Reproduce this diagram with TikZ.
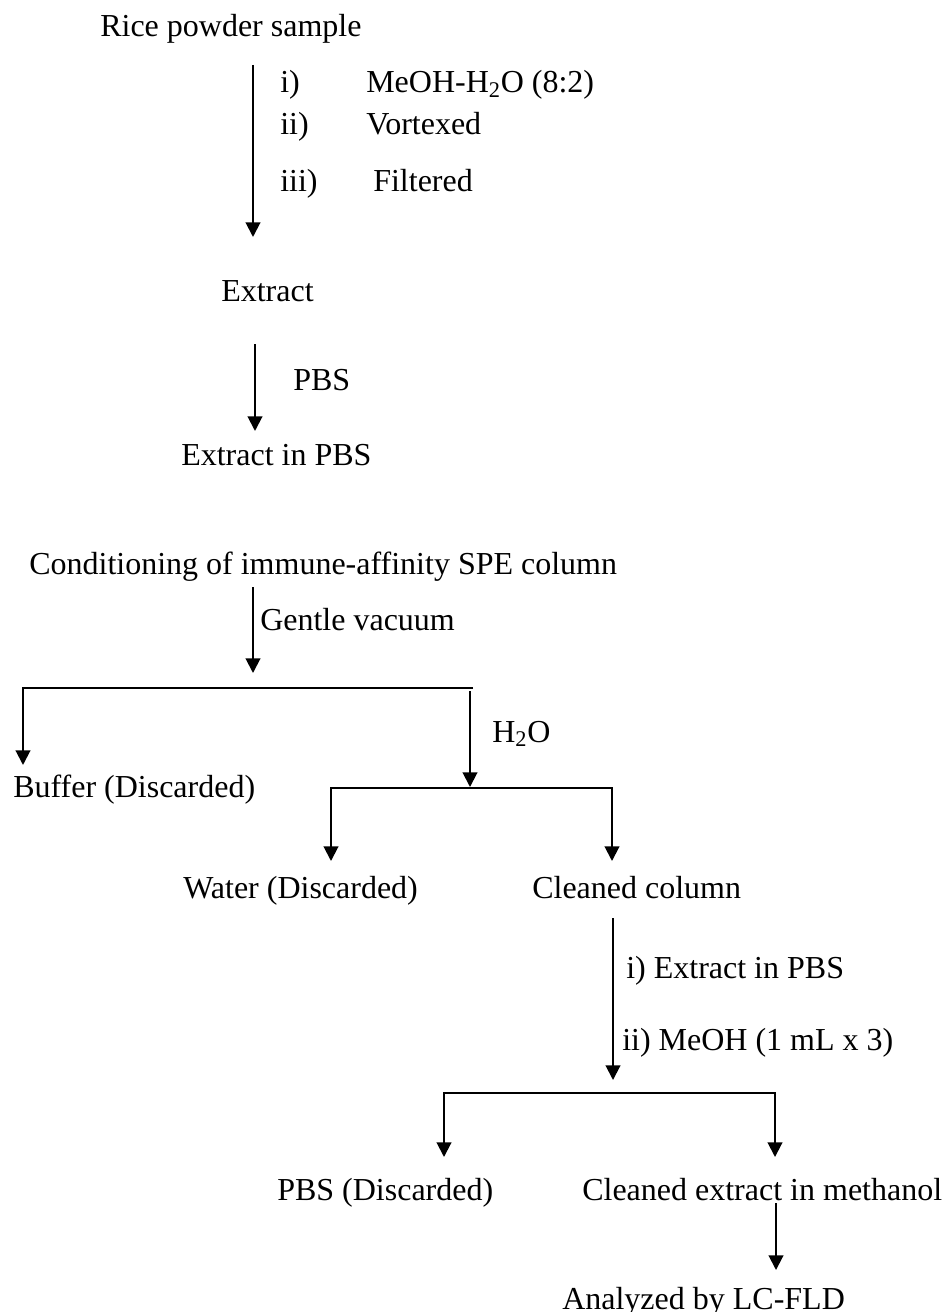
\documentclass[tikz,border=0pt]{standalone}
\usepackage{fontspec}
\setmainfont{Liberation Serif}
\usetikzlibrary{arrows.meta}

\begin{document}
\begin{tikzpicture}[x=0.75pt,y=-0.75pt,
  every node/.style={anchor=base west,inner sep=0pt,font=\fontsize{24}{28}\selectfont},
  arr/.style={line width=1.5pt,-{Triangle[length=11pt,width=11pt]}},
  twoarr/.style={line width=1.5pt,{Triangle[length=11pt,width=11pt]}-{Triangle[length=11pt,width=11pt]}}]
  \useasboundingbox (0,0) rectangle (944,1312);
  % extraction
  \node (S) at (100,37) {Rice powder sample};
  \coordinate (A1) at (253,65); \coordinate (A2) at (253,237);
  \draw[arr] (A1) -- (A2);
  \node (S1) at (280,93) {i)};   \node (T1) at (366,93) {MeOH-H\textsubscript{2}O (8:2)};
  \node (S2) at (280,135) {ii)}; \node (T2) at (366,135) {Vortexed};
  \node (S3) at (280,192) {iii)}; \node (T3) at (373,192) {Filtered};
  \node (E) at (221,301) {Extract};
  \coordinate (B1) at (255,344); \coordinate (B2) at (255,431);
  \draw[arr] (B1) -- (B2);
  \node (P) at (293,390) {PBS};
  \node (EP) at (181,465) {Extract in PBS};
  % SPE column
  \node (C) at (29,574) {Conditioning of immune-affinity SPE column};
  \coordinate (C1) at (253,587); \coordinate (C2) at (253,673);
  \draw[arr] (C1) -- (C2);
  \node (V) at (260,630) {Gentle vacuum};
  \coordinate (H1l) at (23,688); \coordinate (H1r) at (473,688);
  \coordinate (Bt) at (23,765);
  \draw[arr] (H1r) -- (H1l) -- (Bt);
  \node (BD) at (13,797) {Buffer (Discarded)};
  \coordinate (D1) at (470,691); \coordinate (D2) at (470,787);
  \draw[arr] (D1) -- (D2);
  \node (W) at (492,742) {H\textsubscript{2}O};
  \coordinate (H2l) at (331,788); \coordinate (H2r) at (612,788);
  \coordinate (Wt) at (331,861); \coordinate (CCt) at (612,861);
  \draw[twoarr] (Wt) -- (H2l) -- (H2r) -- (CCt);
  \node (WD) at (183,898) {Water (Discarded)};
  \node (CC) at (532,898) {Cleaned column};
  % elution
  \coordinate (F1) at (613,918); \coordinate (F2) at (613,1080);
  \draw[arr] (F1) -- (F2);
  \node (L1) at (626,978) {i) Extract in PBS};
  \node (L2) at (622,1050) {ii) MeOH (1 mL x 3)};
  \coordinate (H3l) at (444,1093); \coordinate (H3r) at (775,1093);
  \coordinate (Pt) at (444,1157); \coordinate (CEt) at (775,1157);
  \draw[twoarr] (Pt) -- (H3l) -- (H3r) -- (CEt);
  \node (PD) at (277,1200) {PBS (Discarded)};
  \node (CE) at (582,1200) {Cleaned extract in methanol};
  \coordinate (G1) at (776,1203); \coordinate (G2) at (776,1270);
  \draw[arr] (G1) -- (G2);
  \node (LC) at (562,1309) {Analyzed by LC-FLD};
\end{tikzpicture}
\end{document}
